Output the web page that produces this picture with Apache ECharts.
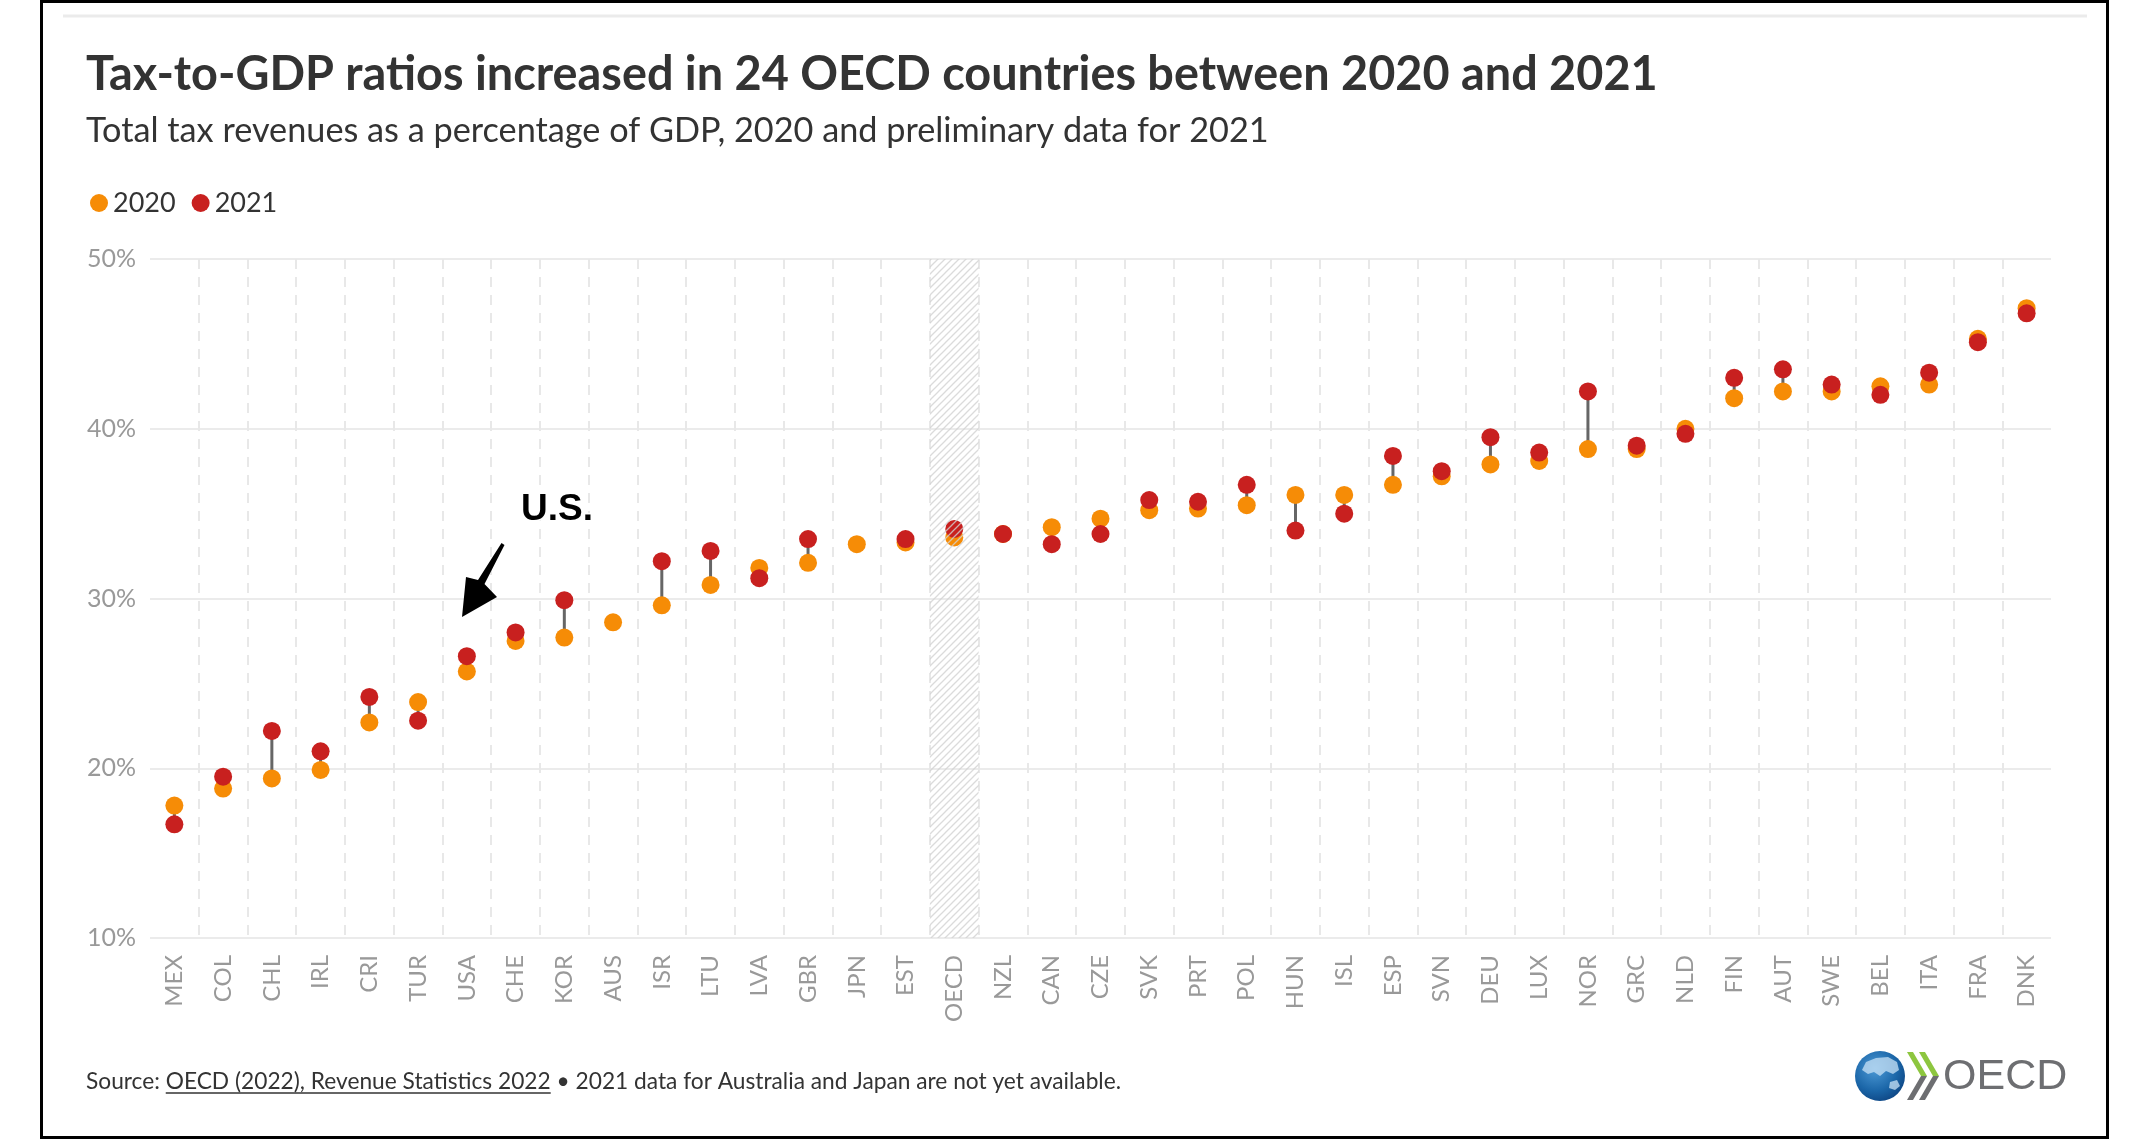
<!DOCTYPE html>
<html><head><meta charset="utf-8">
<script src="https://cdn.jsdelivr.net/npm/echarts@6/dist/echarts.min.js"></script>
<style>html,body{margin:0;padding:0;background:#fff}#c{width:2150px;height:1140px}</style>
</head><body><div id="c"></div>
<script>
const categories = ['MEX','COL','CHL','IRL','CRI','TUR','USA','CHE','KOR','AUS','ISR','LTU','LVA','GBR','JPN','EST','OECD','NZL','CAN','CZE','SVK','PRT','POL','HUN','ISL','ESP','SVN','DEU','LUX','NOR','GRC','NLD','FIN','AUT','SWE','BEL','ITA','FRA','DNK'];
const values2020 = [17.8,18.8,19.4,19.9,22.7,23.9,25.7,27.5,27.7,28.6,29.6,30.8,31.8,32.1,33.2,33.3,33.6,33.8,34.2,34.7,35.2,35.3,35.5,36.1,36.1,36.7,37.2,37.9,38.1,38.8,38.8,40.0,41.8,42.2,42.2,42.5,42.6,45.3,47.1];
const values2021 = [16.7,19.5,22.2,21.0,24.2,22.8,26.6,28.0,29.9,null,32.2,32.8,31.2,33.5,null,33.5,34.1,33.8,33.2,33.8,35.8,35.7,36.7,34.0,35.0,38.4,37.5,39.5,38.6,42.2,39.0,39.7,43.0,43.5,42.6,42.0,43.3,45.1,46.8];
const yTicks = [10,20,30,40,50];
const seriesNames = ['2020','2021'];
const highlightCategory = 'OECD';
const titleText = 'Tax-to-GDP ratios increased in 24 OECD countries between 2020 and 2021';
const subtitleText = 'Total tax revenues as a percentage of GDP, 2020 and preliminary data for 2021';
const sourcePrefix = 'Source: ';
const sourceLink = 'OECD (2022), Revenue Statistics 2022';
const sourceSuffix = ' \u2022 2021 data for Australia and Japan are not yet available.';
const annotationText = 'U.S.';

const FONT = 'Lato, "Noto Sans", sans-serif';
const mctx = document.createElement('canvas').getContext('2d');
function measure(text, size, weight){ mctx.font = (weight||'normal')+' '+size+'px '+FONT; return mctx.measureText(text).width; }
function fit(text, target, weight){ return 100*target/measure(text,100,weight); }

const titleSize = fit(titleText, 1572, 'bold');
const subSize = fit(subtitleText, 1183, 'normal');
const srcFull = sourcePrefix + sourceLink + sourceSuffix;
const srcSize = fit(srcFull, 1036, 'normal');
const linkX0 = 86 + measure(sourcePrefix, srcSize);
const linkX1 = linkX0 + measure(sourceLink, srcSize);

// hatch pattern
const pc = document.createElement('canvas'); pc.width = 7; pc.height = 7;
const pg = pc.getContext('2d');
pg.strokeStyle = 'rgba(210,210,210,0.8)'; pg.lineWidth = 1.3;
pg.beginPath();
pg.moveTo(-1,8); pg.lineTo(8,-1);
pg.moveTo(-1,1); pg.lineTo(1,-1);
pg.moveTo(6,8); pg.lineTo(8,6);
pg.stroke();

const yMin = yTicks[0], yMax = yTicks[yTicks.length-1];
const oecdIdx = categories.indexOf(highlightCategory);
const pairData = [];
categories.forEach((c,i)=>{ if(values2020[i]!=null && values2021[i]!=null) pairData.push([i, values2020[i], values2021[i]]); });

const chart = echarts.init(document.getElementById('c'), null, {renderer:'canvas'});
const COL2020 = '#F68C06', COL2021 = '#C8201F';

chart.setOption({
  animation:false,
  backgroundColor:'#fff',
  color:[COL2020, COL2021],
  grid:{left:150, right:99, top:259, bottom:202, containLabel:false},
  legend:{
    data:seriesNames, left:85, top:183, icon:'circle', itemWidth:18, itemHeight:18, itemGap:16,
    textStyle:{fontFamily:FONT, fontSize:27, color:'#333', lineHeight:30}
  },
  xAxis:{
    type:'category', data:categories, boundaryGap:true,
    axisLine:{show:false}, axisTick:{show:false},
    axisLabel:{rotate:90, margin:17, fontFamily:FONT, fontSize:24, color:'#999', interval:0},
    splitLine:{show:true, showMinLine:false, showMaxLine:false, lineStyle:{color:'#e8e8e8', width:2, type:[10,8]}}
  },
  yAxis:{
    type:'value', min:yMin, max:yMax, interval:10,
    axisLine:{show:false}, axisTick:{show:false},
    axisLabel:{formatter:'{value}%', margin:14, fontFamily:FONT, fontSize:25, color:'#999'},
    splitLine:{lineStyle:{color:'#ebebeb', width:2}}
  },
  series:[
    {
      type:'custom', name:'connector', z:1, silent:true, data:pairData, encode:{x:0, y:[1,2]},
      renderItem:(params, api)=>{
        const p1 = api.coord([api.value(0), api.value(1)]);
        const p2 = api.coord([api.value(0), api.value(2)]);
        return {type:'line', shape:{x1:p1[0], y1:p1[1], x2:p2[0], y2:p2[1]}, style:{stroke:'#666', lineWidth:3}};
      }
    },
    {type:'scatter', name:seriesNames[0], data:values2020, symbol:'circle', symbolSize:18, z:2, itemStyle:{color:COL2020, opacity:1}},
    {type:'scatter', name:seriesNames[1], data:values2021, symbol:'circle', symbolSize:18, z:3, itemStyle:{color:COL2021, opacity:1}},
    {
      type:'custom', name:'hatch', z:4, silent:true, data:[[oecdIdx, yMax, yMin]], encode:{x:0, y:[1,2]},
      renderItem:(params, api)=>{
        const i = api.value(0);
        const t = api.coord([i, api.value(1)]);
        const b = api.coord([i, api.value(2)]);
        const w = api.size([1,0])[0];
        return {type:'rect', shape:{x:t[0]-w/2, y:t[1], width:w, height:b[1]-t[1]}, style:{fill:{image:pc, repeat:'repeat'}}};
      }
    }
  ],
  graphic:[
    {type:'rect', shape:{x:41.5, y:1.5, width:2066, height:1136}, style:{fill:null, stroke:'#000', lineWidth:3}, silent:true, z:0},
    {type:'line', shape:{x1:63, y1:16, x2:2087, y2:16}, style:{stroke:'#ebebeb', lineWidth:3}, silent:true},
    {type:'text', left:86, top:79 - titleSize*0.6, style:{text:titleText, font:'bold '+titleSize+'px '+FONT, fill:'#333'}},
    {type:'text', x:86, y:131, style:{text:subtitleText, font:'normal '+subSize+'px '+FONT, fill:'#333', verticalAlign:'middle'}},
    {type:'text', x:86, y:1082, style:{text:srcFull, font:'normal '+srcSize+'px '+FONT, fill:'#333', verticalAlign:'middle'}},
    {type:'line', shape:{x1:linkX0, y1:1093, x2:linkX1, y2:1093}, style:{stroke:'#333', lineWidth:1.5}, silent:true},
    // annotation
    {type:'text', x:557, y:510, z:10, style:{text:annotationText, font:'bold 37px "Liberation Sans", Arial, sans-serif', fill:'#000', align:'center', verticalAlign:'middle', stroke:'#fff', lineWidth:3, shadowColor:'rgba(0,0,0,0.45)', shadowBlur:4, shadowOffsetX:1, shadowOffsetY:2}},
    {type:'polygon', z:10, shape:{points:[[501.5,543],[504.5,545],[484.5,584],[497,597],[462,617],[466,577],[478,580]]}, style:{fill:'#000'}, silent:true},
    // OECD logo
    {type:'circle', shape:{cx:1880, cy:1076, r:25}, style:{fill:{type:'radial', x:0.4, y:0.35, r:0.75, colorStops:[{offset:0,color:'#4d9ad6'},{offset:0.6,color:'#1b66a8'},{offset:1,color:'#0b3f7c'}]}}, silent:true},
    {type:'polygon', shape:{points:[[1866,1062],[1876,1058],[1888,1057],[1897,1062],[1899,1070],[1893,1074],[1886,1071],[1880,1076],[1874,1072],[1868,1074],[1862,1070]]}, style:{fill:'rgba(200,225,245,0.75)'}, silent:true},
    {type:'polygon', shape:{points:[[1890,1082],[1897,1080],[1900,1086],[1895,1090],[1889,1088]]}, style:{fill:'rgba(200,225,245,0.75)'}, silent:true},
    {type:'polygon', shape:{points:[[1907,1052],[1913,1052],[1927,1076],[1921,1076]]}, style:{fill:'#8DC63F'}, silent:true},
    {type:'polygon', shape:{points:[[1921,1076],[1927,1076],[1913,1100],[1907,1100]]}, style:{fill:'#6D6E71'}, silent:true},
    {type:'polygon', shape:{points:[[1919,1052],[1925,1052],[1939,1076],[1933,1076]]}, style:{fill:'#8DC63F'}, silent:true},
    {type:'polygon', shape:{points:[[1933,1076],[1939,1076],[1925,1100],[1919,1100]]}, style:{fill:'#6D6E71'}, silent:true},
    {type:'text', x:1943, y:1077, style:{text:'OECD', font:'normal 43px "Liberation Sans", Arial, sans-serif', fill:'#6D6E71', verticalAlign:'middle'}}
  ]
});
</script></body></html>
